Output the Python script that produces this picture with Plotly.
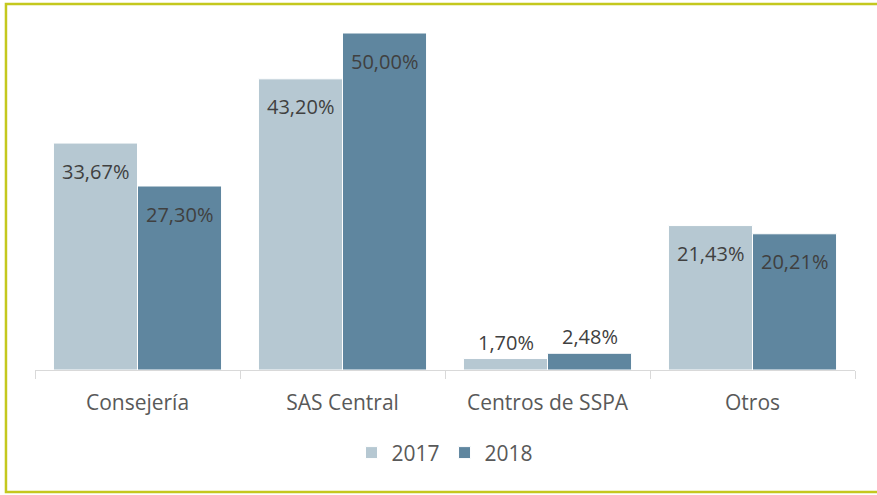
import plotly.graph_objects as go

categories = ["Consejería", "SAS Central", "Centros de SSPA", "Otros"]
years = ["2017", "2018"]
values_2017 = [33.67, 43.20, 1.70, 21.43]
values_2018 = [27.30, 50.00, 2.48, 20.21]
labels_2017 = ["33,67%", "43,20%", "1,70%", "21,43%"]
labels_2018 = ["27,30%", "50,00%", "2,48%", "20,21%"]

colors = {"2017": "#b6c8d2", "2018": "#5f869f"}
FONT = "Open Sans"

fig = go.Figure()
for yr, vals in zip(years, [values_2017, values_2018]):
    fig.add_trace(go.Bar(
        x=categories, y=vals, name=yr,
        marker=dict(color=colors[yr], line=dict(color="white", width=1)),
        hoverinfo="skip",
    ))

# data labels
for yr, vals, labs, shift in [("2017", values_2017, labels_2017, -42),
                              ("2018", values_2018, labels_2018, 42)]:
    for c, v, t in zip(categories, vals, labs):
        if v < 5:
            fig.add_annotation(x=c, y=v, text=t, xshift=shift, yshift=1,
                               yanchor="bottom", showarrow=False,
                               font=dict(family=FONT, size=20, color="#404040"))
        else:
            fig.add_annotation(x=c, y=v, text=t, xshift=shift, yshift=-28,
                               yanchor="middle", showarrow=False,
                               font=dict(family=FONT, size=20, color="#404040"))

# outer border
fig.add_shape(type="rect", xref="paper", yref="paper",
              x0=-0.0354, x1=1.06, y0=-0.3486, y1=1.0457,
              line=dict(color="#c4c81e", width=2.5), layer="above")

fig.update_layout(
    width=877, height=495,
    margin=dict(l=35, r=22, t=20, b=125),
    paper_bgcolor="white", plot_bgcolor="white",
    barmode="group", bargap=0.18, bargroupgap=0,
    font=dict(family=FONT, color="#595959"),
    showlegend=True,
    legend=dict(orientation="h", x=0.5, xanchor="center", y=-0.237, yanchor="middle",
                font=dict(family=FONT, size=21, color="#595959"),
                itemwidth=30, traceorder="normal"),
    xaxis=dict(showline=True, linecolor="#d9d9d9", linewidth=1,
               ticks="outside", tickson="boundaries", ticklen=8, tickcolor="#d9d9d9",
               tickfont=dict(family=FONT, size=21, color="#595959"),
               ticklabelstandoff=14, showgrid=False, fixedrange=True),
    yaxis=dict(range=[0, 51.93], visible=False, showgrid=False, fixedrange=True),
)

fig.write_html("out.html", config={"displayModeBar": False},
               post_script="document.body.style.margin='0';document.body.style.overflow='hidden';")
